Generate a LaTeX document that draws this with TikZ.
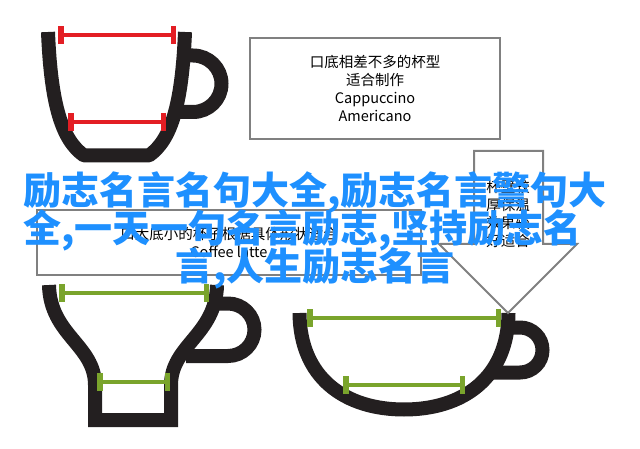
\documentclass[tikz,border=0pt]{standalone}
\usepackage{fontspec}
\usepackage{tikz}
\usetikzlibrary{arrows.meta}
\newfontfamily\cjk{Noto Sans CJK SC}
\definecolor{cupblack}{RGB}{35,31,32}
\definecolor{barred}{RGB}{227,30,36}
\definecolor{bargreen}{RGB}{122,164,44}
\definecolor{boxgray}{RGB}{128,128,128}
\definecolor{titleblue}{RGB}{30,144,255}

\begin{document}
\begin{tikzpicture}[x=1pt,y=-1pt,
  cup/.style={draw=cupblack,line width=14pt},
  measure/.style={line width=4.5pt,arrows={Bar[width=18pt,line width=5.5pt]-Bar[width=18pt,line width=5.5pt]}},
  infobox/.style={draw=boxgray,line width=2pt,fill=white,inner sep=0pt,
    font=\cjk\fontsize{14.5}{18}\selectfont,align=center},
  title/.style={font=\cjk\bfseries\fontsize{38}{38}\selectfont,text=titleblue,
    anchor=base west,inner sep=0pt}]
  \useasboundingbox (0,0) rectangle (640,449);
  % espresso cup
  \draw[cup,line join=round] (48,32) .. controls (51,105) and (62,140) .. (84,155.5)
    -- (149,155.5) .. controls (171,140) and (182,105) .. (185,32);
  \draw[cup] (183,55.5) -- (193,55.5) arc[start angle=-90,end angle=90,x radius=28.5,y radius=28.25] -- (176,112);
  \coordinate (espTopL) at (58,35);
  \coordinate (espTopR) at (176,35);
  \coordinate (espLowL) at (68,122);
  \coordinate (espLowR) at (166,122);
  \draw[measure,barred] (espTopL) -- (espTopR);
  \draw[measure,barred] (espLowL) -- (espLowR);
  % latte cup
  \draw[cup] (49,285) .. controls (50,335) and (95,345) .. (95,385) -- (95,420)
    -- (171,420) -- (171,385) .. controls (171,345) and (216,335) .. (217,285);
  \draw[cup] (214,303.5) -- (228,303.5) arc[start angle=-90,end angle=90,x radius=26.5,y radius=26.25] -- (186,356);
  \coordinate (latTopL) at (59,293);
  \coordinate (latTopR) at (209,293);
  \coordinate (latLowL) at (97,382);
  \coordinate (latLowR) at (170,382);
  \draw[measure,bargreen] (latTopL) -- (latTopR);
  \draw[measure,bargreen] (latLowL) -- (latLowR);
  % cappuccino cup
  \draw[cup] (299.5,313) .. controls (300,378) and (345,409.5) .. (404,409.5)
    .. controls (463,409.5) and (508,378) .. (508.5,313);
  \draw[cup] (506,327.5) -- (520,327.5) arc[start angle=-90,end angle=90,radius=22.5] -- (490,372.5);
  \coordinate (capTopL) at (307,318);
  \coordinate (capTopR) at (501,318);
  \coordinate (capLowL) at (343,385);
  \coordinate (capLowR) at (465,385);
  \draw[measure,bargreen] (capTopL) -- (capTopR);
  \draw[measure,bargreen] (capLowL) -- (capLowR);
  % notes
  \node[infobox,minimum width=250pt,minimum height=101pt] (evenbox) at (375,88.5)
    {口底相差不多的杯型\\适合制作\\Cappuccino\\Americano};
  \node[infobox,minimum width=384pt,minimum height=65pt] (widebox) at (229,242.5)
    {口大底小的杯子根据具体形状适合\\Coffee latte};
  \draw[draw=boxgray,line width=2pt,fill=white,line join=miter] (474,151) -- (543,151) -- (543,244)
    -- (577,244) -- (508,313) -- (439,244) -- (474,244) -- cycle;
  \node[font=\cjk\fontsize{14.5}{17.7}\selectfont,align=center] (thickbox) at (508,214)
    {杯壁较\\厚保温\\效果较\\好适合};
  % title
  \node[title] (title1) at (23,205) {励志名言名句大全,励志名言警句大};
  \node[title] (title2) at (23,243) {全,一天一句名言励志,坚持励志名};
  \node[title] (title3) at (175,280) {言,人生励志名言};
\end{tikzpicture}
\end{document}
